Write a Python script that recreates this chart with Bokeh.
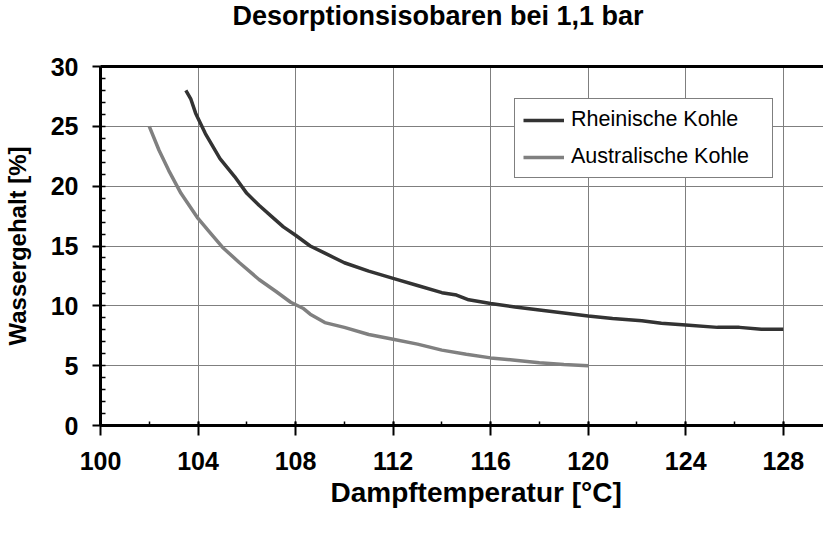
from bokeh.plotting import figure
from bokeh.models import (Range1d, SingleIntervalTicker, FixedTicker, LinearAxis,
                          Legend, LegendItem, Title)
from bokeh.embed import file_html
from bokeh.resources import INLINE

# ---- data ----
rhein_temp = [103.5, 103.7, 103.9, 104.3, 104.9, 105.5, 106.0, 106.5, 107.0, 107.5,
              108.0, 108.6, 109.2, 110.0, 111.0, 112.0, 113.0, 114.0, 114.6, 115.1,
              116.0, 117.0, 118.0, 119.0, 120.0, 121.0, 122.2, 123.0, 124.0, 125.3,
              126.2, 127.1, 128.0]
rhein_water = [28.0, 27.3, 26.1, 24.4, 22.3, 20.8, 19.4, 18.4, 17.5, 16.6,
               15.9, 15.0, 14.4, 13.6, 12.9, 12.3, 11.7, 11.1, 10.9, 10.5,
               10.2, 9.9, 9.65, 9.4, 9.15, 8.95, 8.75, 8.55, 8.4, 8.2,
               8.2, 8.05, 8.05]

austr_temp = [102.0, 102.4, 102.8, 103.3, 104.0, 104.5, 105.0, 105.7, 106.5, 107.2,
              107.8, 108.3, 108.6, 109.2, 110.0, 111.0, 112.0, 113.0, 114.0, 115.0,
              116.0, 117.0, 118.0, 119.0, 120.0]
austr_water = [25.0, 23.0, 21.3, 19.4, 17.3, 16.1, 14.9, 13.6, 12.2, 11.2,
               10.3, 9.8, 9.3, 8.6, 8.2, 7.6, 7.2, 6.8, 6.3, 5.95,
               5.65, 5.45, 5.25, 5.1, 5.0]

series_names = ["Rheinische Kohle", "Australische Kohle"]
title_text = "Desorptionsisobaren bei 1,1 bar"
x_label = "Dampftemperatur [°C]"
y_label = "Wassergehalt [%]"

FONT = "Liberation Sans"

p = figure(width=823, height=517, output_backend="svg", toolbar_location=None,
           x_range=Range1d(100, 129.65), y_range=Range1d(0, 30),
           min_border_left=95, min_border_right=0, min_border_top=66,
           min_border_bottom=92, title=None)
p.outline_line_color = None
p.background_fill_color = "white"
p.border_fill_color = "white"

xax = p.below[0]
yax = p.left[0]

# top frame line (label-less axis) whose invisible tick keeps the title up at the top
top_axis = LinearAxis(ticker=FixedTicker(ticks=[100]), major_label_overrides={100: ""},
                      axis_line_color="black", axis_line_width=3,
                      major_tick_in=0, major_tick_out=34,
                      major_tick_line_color=None, minor_tick_line_color=None,
                      minor_tick_in=0, minor_tick_out=0, major_label_standoff=0)
p.add_layout(top_axis, "above")

# chart title (the original chart is cropped on the right, so it sits off-centre)
p.add_layout(Title(text=title_text, align="left", offset=132, vertical_align="top",
                   standoff=0, text_font=FONT, text_font_style="bold",
                   text_font_size="27px", text_color="black"), "above")

# axes
xax.ticker = SingleIntervalTicker(interval=4, num_minor_ticks=2)
yax.ticker = SingleIntervalTicker(interval=5, num_minor_ticks=5)
for ax in (xax, yax):
    ax.axis_line_color = "black"
    ax.axis_line_width = 3
    ax.major_tick_line_color = "black"
    ax.major_tick_line_width = 2
    ax.minor_tick_line_color = "black"
    ax.minor_tick_line_width = 1.5
    ax.major_label_text_font = FONT
    ax.major_label_text_font_style = "bold"
    ax.major_label_text_font_size = "25px"
    ax.major_label_text_color = "black"
    ax.axis_label_text_font = FONT
    ax.axis_label_text_font_style = "bold"
    ax.axis_label_text_color = "black"

xax.major_tick_in = 4
xax.major_tick_out = 10
xax.minor_tick_in = 4
xax.minor_tick_out = 0
xax.major_label_standoff = 16

# x-axis title as a below-panel title so it can sit off-centre like the original
p.add_layout(Title(text=x_label, align="left", offset=230, vertical_align="bottom",
                   standoff=4.6, text_font=FONT, text_font_style="bold",
                   text_font_size="28px", text_color="black"), "below")

yax.axis_label = y_label
yax.axis_label_text_font_size = "24px"
yax.major_tick_in = 0
yax.major_tick_out = 8
yax.minor_tick_in = 5
yax.minor_tick_out = 0
yax.major_label_standoff = 14
yax.axis_label_standoff = 17

# grid follows the bottom / left axes
p.xgrid.ticker = xax.ticker
p.ygrid.ticker = yax.ticker
for g in (p.xgrid, p.ygrid):
    g.grid_line_color = "#7f7f7f"
    g.grid_line_width = 1

r1 = p.line(rhein_temp, rhein_water, line_color="#333333", line_width=3.5)
r2 = p.line(austr_temp, austr_water, line_color="#808080", line_width=3.5)

legend = Legend(items=[LegendItem(label=series_names[0], renderers=[r1]),
                       LegendItem(label=series_names[1], renderers=[r2])],
                location=(414, 247))
legend.label_text_font = FONT
legend.label_text_font_size = "21.5px"
legend.label_text_color = "black"
legend.glyph_width = 41
legend.glyph_height = 24
legend.label_height = 24
legend.label_width = 193
legend.label_standoff = 7
legend.spacing = 12
legend.padding = 8
legend.margin = 0
legend.border_line_color = "black"
legend.border_line_width = 1.5
legend.background_fill_color = "white"
legend.background_fill_alpha = 1
p.add_layout(legend)

open("out.html", "w").write(file_html(p, INLINE))
